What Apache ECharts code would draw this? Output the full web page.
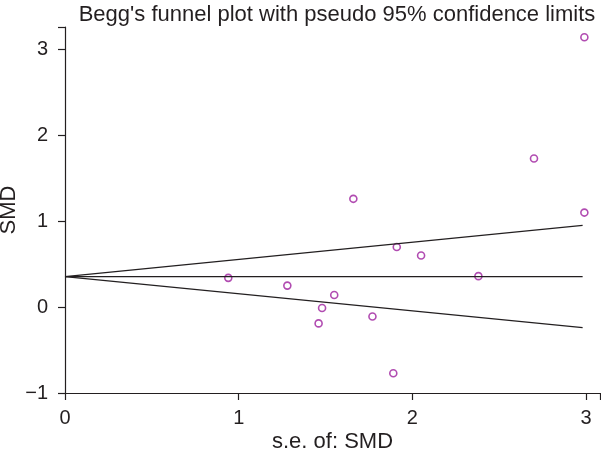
<!DOCTYPE html>
<html>
<head>
<meta charset="utf-8">
<script src="https://cdn.jsdelivr.net/npm/echarts@6/dist/echarts.min.js"></script>
<style>
html,body{margin:0;padding:0;background:#fff;}
#c{width:601px;height:459px;}
</style>
</head>
<body>
<div id="c"></div>
<script>
// Study points: standard error of SMD (x) and SMD (y)
const studySE  = [2.99, 2.70, 2.99, 1.66, 1.91, 2.05, 2.38, 0.94, 1.28, 1.55, 1.48, 1.46, 1.77, 1.89];
const studySMD = [3.14, 1.73, 1.10, 1.26, 0.70, 0.60, 0.36, 0.34, 0.25, 0.14, -0.01, -0.19, -0.11, -0.77];

// Pooled estimate and pseudo 95% limits
const limitSE    = [0, 2.98];
const pooledLine = [0.354, 0.354];
const upperLine  = [0.354, 0.95];
const lowerLine  = [0.354, -0.24];

// Axis ticks
const xTicks = [0, 1, 2, 3];
const yTicks = [-1, 0, 1, 2, 3];
const xMax = 3.08;
const yMax = 3.26;

const font = "'Liberation Sans', Arial, Helvetica, sans-serif";
const ink = '#231f20';

function fmtNum(v){ return v < 0 ? '\u2212' + Math.abs(v) : String(v); }

const chart = echarts.init(document.getElementById('c'), null, {renderer:'canvas'});
const pairs = (xs, ys) => xs.map((x,i)=>[x, ys[i]]);
const lineStyle = {color: ink, width: 1.3};

chart.setOption({
  animation: false,
  backgroundColor: '#fff',
  title: {
    text: "Begg's funnel plot with pseudo 95% confidence limits",
    left: 332, top: -1, textAlign: 'center',
    textStyle: {fontFamily: font, fontSize: 22, fontWeight: 'normal', color: ink}
  },
  grid: {left: 65, right: 1, top: 27, bottom: 66, containLabel: false, outerBoundsMode: 'none'},
  xAxis: {
    type: 'value', min: 0, max: xMax,
    name: 's.e. of: SMD', nameLocation: 'middle', nameGap: 38, nameMoveOverlap: false,
    nameTextStyle: {fontFamily: font, fontSize: 22, color: ink, verticalAlign: 'top'},
    axisLine: {onZero: false, lineStyle: {color: ink, width: 1.2}},
    axisTick: {show: true, length: 7, lineStyle: {color: ink, width: 1.2}, customValues: xTicks.concat([xMax])},
    axisLabel: {customValues: xTicks, fontFamily: font, fontSize: 20, color: ink, margin: 15, formatter: fmtNum},
    splitLine: {show: false}
  },
  yAxis: {
    type: 'value', min: -1, max: yMax,
    name: 'SMD', nameLocation: 'middle', nameGap: 45, nameRotate: 90, nameMoveOverlap: false,
    nameTextStyle: {fontFamily: font, fontSize: 22, color: ink},
    axisLine: {show: true, onZero: false, lineStyle: {color: ink, width: 1.2}},
    axisTick: {show: true, length: 7, lineStyle: {color: ink, width: 1.2}, customValues: yTicks.concat([yMax])},
    axisLabel: {customValues: yTicks, fontFamily: font, fontSize: 20, color: ink, margin: 17, formatter: fmtNum},
    splitLine: {show: false}
  },
  series: [
    {type:'line', data: pairs(limitSE, pooledLine), symbol:'none', lineStyle, silent:true},
    {type:'line', data: pairs(limitSE, upperLine), symbol:'none', lineStyle, silent:true},
    {type:'line', data: pairs(limitSE, lowerLine), symbol:'none', lineStyle, silent:true},
    {type:'scatter', data: pairs(studySE, studySMD), symbol:'circle', symbolSize: 7,
     itemStyle: {color: '#fff', borderColor: '#9e1f9e', borderWidth: 1.6}}
  ]
});
</script>
</body>
</html>
